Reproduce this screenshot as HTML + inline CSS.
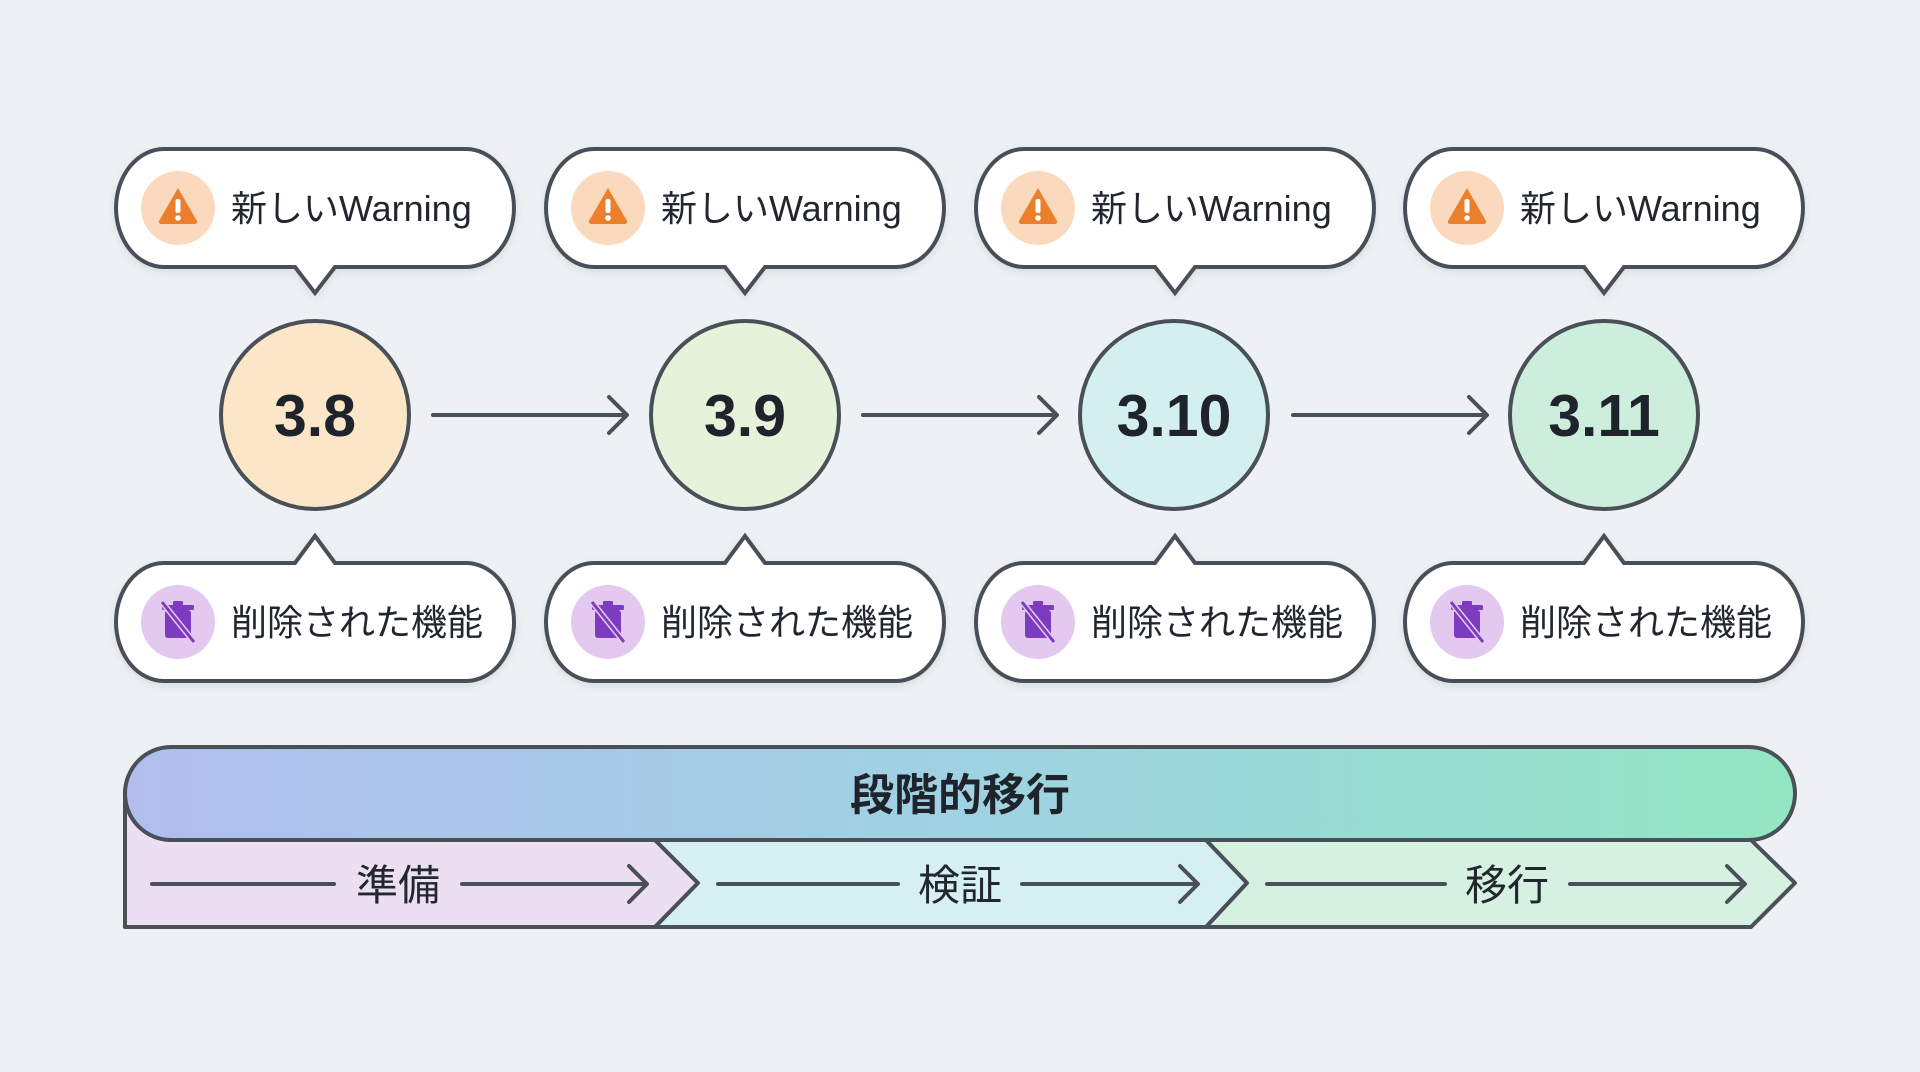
<!DOCTYPE html>
<html><head><meta charset="utf-8"><style>
html,body{margin:0;padding:0;background:#edf0f4;}
svg{display:block}
text{font-family:"Liberation Sans","Noto Sans CJK JP",sans-serif;}
</style></head><body>
<svg width="1920" height="1072" viewBox="0 0 1920 1072" xmlns="http://www.w3.org/2000/svg">
<defs>
<linearGradient id="bar" x1="0" x2="1" y1="0" y2="0">
<stop offset="0" stop-color="#b2bdee"/><stop offset="0.5" stop-color="#9fd2e2"/><stop offset="1" stop-color="#93e6c3"/>
</linearGradient>
<filter id="sh" x="-10%" y="-10%" width="120%" height="130%"><feDropShadow dx="0" dy="3" stdDeviation="4" flood-color="#000" flood-opacity="0.08"/></filter>
<g id="warn">
<circle r="37" fill="#fbd9bd"/>
<path d="M0,-20 L19,13 Q20,16 16,16 L-16,16 Q-20,16 -19,13 Z" fill="#ec7f2c"/>
<rect x="-2.5" y="-9" width="5" height="14" rx="2" fill="#fff"/><circle cx="0" cy="10" r="2.8" fill="#fff"/>
</g>
<g id="trash">
<circle r="37" fill="#e3c8ef"/>
<rect x="-13" y="-12" width="26" height="28" rx="3" fill="#7d3cbf"/>
<rect x="-16" y="-17" width="32" height="5" rx="1.5" fill="#7d3cbf"/>
<rect x="-5" y="-21" width="10" height="5" rx="1" fill="#7d3cbf"/>
<line x1="-16" y1="-20" x2="16" y2="20" stroke="#e3c8ef" stroke-width="6"/>
<line x1="-16" y1="-20" x2="16" y2="20" stroke="#7d3cbf" stroke-width="3"/>
</g>
</defs>
<g stroke="#4a5058" stroke-width="4" fill="#fff" filter="url(#sh)">
<g id="tb">
<path d="M164,149 H466 A48,59 0 0 1 466,267 H335 L315,293 L295,267 H164 A48,59 0 0 1 164,149 Z"/>
</g>
<use href="#tb" x="430"/><use href="#tb" x="860"/><use href="#tb" x="1289"/>
<g id="bb">
<path d="M164,563 H295 L315,536 L335,563 H466 A48,59 0 0 1 466,681 H164 A48,59 0 0 1 164,563 Z"/>
</g>
<use href="#bb" x="430"/><use href="#bb" x="860"/><use href="#bb" x="1289"/>
</g>
<g stroke="#4a5058" stroke-width="4">
<circle cx="315" cy="415" r="94" fill="#fbe7c7"/>
<circle cx="745" cy="415" r="94" fill="#e6f2d9"/>
<circle cx="1174" cy="415" r="94" fill="#d3f0ef"/>
<circle cx="1604" cy="415" r="94" fill="#cdeedc"/>
</g>
<g font-weight="bold" font-size="59" fill="#1f242c" text-anchor="middle">
<text x="315" y="436">3.8</text><text x="745" y="436">3.9</text><text x="1174" y="436">3.10</text><text x="1604" y="436">3.11</text>
</g>
<g stroke="#4a5058" stroke-width="4" fill="none" stroke-linecap="round" stroke-linejoin="round">
<path d="M433,415 H625 M609,397 L627,415 L609,433"/>
<path d="M863,415 H1055 M1039,397 L1057,415 L1039,433"/>
<path d="M1293,415 H1485 M1469,397 L1487,415 L1469,433"/>
</g>
<g>
<use href="#warn" x="178" y="208"/><use href="#warn" x="608" y="208"/><use href="#warn" x="1038" y="208"/><use href="#warn" x="1467" y="208"/>
<use href="#trash" x="178" y="622"/><use href="#trash" x="608" y="622"/><use href="#trash" x="1038" y="622"/><use href="#trash" x="1467" y="622"/>
</g>
<g font-size="36" fill="#22272e">
<text x="231" y="221">新しいWarning</text><text x="661" y="221">新しいWarning</text><text x="1091" y="221">新しいWarning</text><text x="1520" y="221">新しいWarning</text>
<text x="231" y="635">削除された機能</text><text x="661" y="635">削除された機能</text><text x="1091" y="635">削除された機能</text><text x="1520" y="635">削除された機能</text>
</g>
<g stroke="#4a5058" stroke-width="4" stroke-linejoin="round">
<path d="M125,790 V927 H655 L698,883 L655,840 V790 Z" fill="#ecdff2"/>
<path d="M655,840 H1206 L1247,883 L1206,927 H655 L698,883 Z" fill="#d5eff3"/>
<path d="M1206,840 H1751 L1795,883 L1751,927 H1206 L1247,883 Z" fill="#d6f1e1"/>
<path d="M171,747 H1749 A46,46.5 0 0 1 1749,840 H171 A46,46.5 0 0 1 171,747 Z" fill="url(#bar)"/>
</g>
<text x="960" y="810" text-anchor="middle" font-size="44" font-weight="bold" fill="#1f242c">段階的移行</text>
<g stroke="#4a5058" stroke-width="4" fill="none" stroke-linecap="round" stroke-linejoin="round">
<path d="M152,884 H334 M462,884 H645 M629,866 L647,884 L629,902"/>
<path d="M718,884 H898 M1022,884 H1196 M1180,866 L1198,884 L1180,902"/>
<path d="M1267,884 H1445 M1570,884 H1743 M1727,866 L1745,884 L1727,902"/>
</g>
<g font-size="42" fill="#22272e" text-anchor="middle">
<text x="398" y="900">準備</text><text x="960" y="900">検証</text><text x="1507" y="900">移行</text>
</g>
</svg>
</body></html>
